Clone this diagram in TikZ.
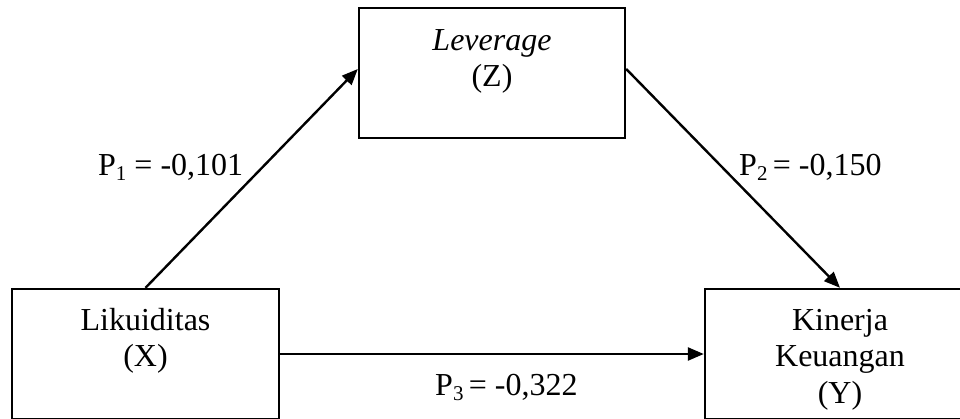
\documentclass[tikz,border=0pt]{standalone}
\usepackage{fontspec}
\setmainfont{Liberation Serif}
\usetikzlibrary{arrows.meta,calc}
\newcommand{\mysub}[1]{{\fontsize{21}{21}\selectfont\raisebox{-5pt}{#1}}}
\begin{document}
\begin{tikzpicture}[x=1pt,y=-1pt,
  box/.style={draw=black,line width=2.4pt,rectangle,inner sep=0pt},
  txt/.style={inner sep=0pt,anchor=base,font=\fontsize{32}{36.5}\selectfont},
  arr/.style={line width=2.4pt,-{Triangle[length=16pt,width=13pt]}}]
\useasboundingbox (0,0) rectangle (960,418);
\clip (0,0) rectangle (960,418);
% boxes
\node[box,minimum width=266pt,minimum height=130pt] (lev) at (492,73) {};
\node[box,minimum width=267pt,minimum height=130pt] (lik) at (145.5,354) {};
\node[box,minimum width=270pt,minimum height=130pt] (kin) at (840,354) {};
% texts
\node[txt] (levt) at (492,50) {\begin{tabular}[t]{@{}c@{}}\textit{Leverage}\\(Z)\end{tabular}};
\node[txt] (likt) at (145.5,330) {\begin{tabular}[t]{@{}c@{}}Likuiditas\\(X)\end{tabular}};
\node[txt] (kint) at (840,330) {\begin{tabular}[t]{@{}c@{}}Kinerja\\Keuangan\\(Y)\end{tabular}};
% labels
\node[txt,anchor=base west] (p1) at (98,175) {P\mysub{1} = -0,101};
\node[txt,anchor=base west] (p2) at (739,175) {P\mysub{2}\,= -0,150};
\node[txt,anchor=base west] (p3) at (435,395) {P\mysub{3}\,= -0,322};
% connectors
\coordinate (levw) at ($(lev.west)+(0,-4)$);
\coordinate (leve) at ($(lev.east)+(0,-4)$);
\draw[arr] (lik.north) -- (levw);
\draw[arr] (leve) -- (kin.north);
\draw[arr] (lik.east) -- (kin.west);
\end{tikzpicture}
\end{document}
